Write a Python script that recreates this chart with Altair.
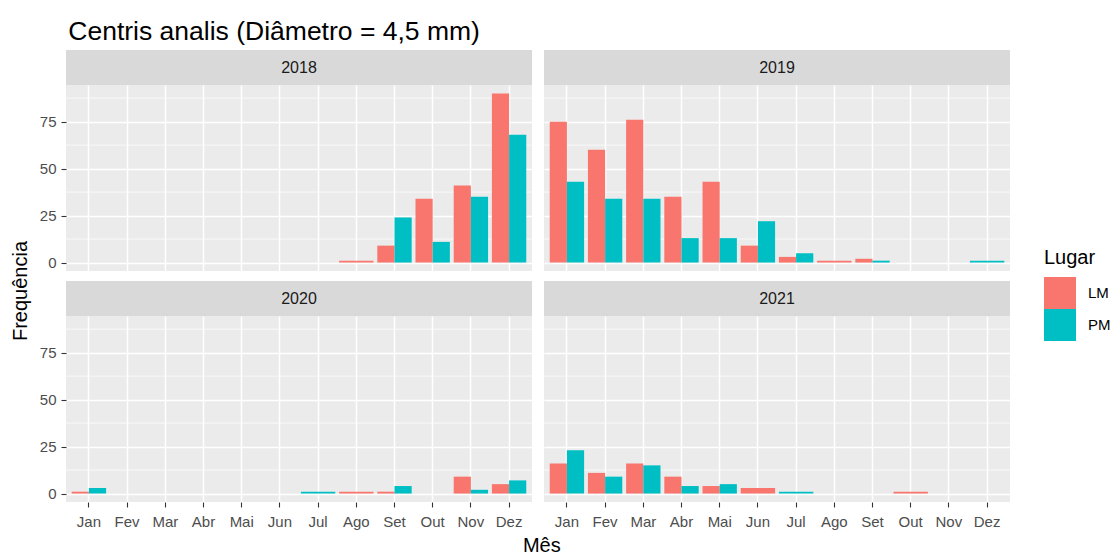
import altair as alt
import pandas as pd

# Monthly nest counts of Centris analis (trap-nest diameter 4.5 mm) per site
months = ["Jan", "Fev", "Mar", "Abr", "Mai", "Jun", "Jul", "Ago", "Set", "Out", "Nov", "Dez"]
years = ["2018", "2019", "2020", "2021"]
places = ["LM", "PM"]
place_colors = ["#F8766D", "#00BFC4"]

# counts per month (0 = no record for that month)
lm_2018 = [0, 0, 0, 0, 0, 0, 0, 1, 9, 34, 41, 90]
pm_2018 = [0, 0, 0, 0, 0, 0, 0, 0, 24, 11, 35, 68]
lm_2019 = [75, 60, 76, 35, 43, 9, 3, 1, 2, 0, 0, 0]
pm_2019 = [43, 34, 34, 13, 13, 22, 5, 0, 1, 0, 0, 1]
lm_2020 = [1, 0, 0, 0, 0, 0, 0, 1, 1, 0, 9, 5]
pm_2020 = [3, 0, 0, 0, 0, 0, 1, 0, 4, 0, 2, 7]
lm_2021 = [16, 11, 16, 9, 4, 3, 0, 0, 0, 1, 0, 0]
pm_2021 = [23, 9, 15, 4, 5, 0, 1, 0, 0, 0, 0, 0]

major_breaks = [0, 25, 50, 75]
minor_breaks = [12.5, 37.5, 62.5, 87.5]

series = {
    "2018": (lm_2018, pm_2018),
    "2019": (lm_2019, pm_2019),
    "2020": (lm_2020, pm_2020),
    "2021": (lm_2021, pm_2021),
}

rows = []
for year in years:
    lm, pm = series[year]
    for m, a, b in zip(months, lm, pm):
        if a > 0:
            rows.append({"Ano": year, "Mes": m, "Lugar": "LM", "Freq": a})
        if b > 0:
            rows.append({"Ano": year, "Mes": m, "Lugar": "PM", "Freq": b})
df = pd.DataFrame(rows)
minor_df = pd.DataFrame({"v": minor_breaks})

FONT = "Liberation Sans"
W, H, STRIP = 466, 186, 35


def panel(year, left, bottom):
    x_axis = alt.Axis(
        title=None, labels=bottom, ticks=bottom, domain=False, grid=True,
        bandPosition=0.5, labelAngle=0, labelPadding=7,
    )
    y_axis = alt.Axis(
        title=None, values=major_breaks, labels=left, ticks=left,
        domain=False, grid=True,
    )
    x = alt.X("Mes:N", sort=months,
              scale=alt.Scale(domain=months, paddingInner=0.1, paddingOuter=0.15),
              axis=x_axis)
    yscale = alt.Scale(domain=[-4.5, 94.5], nice=False, zero=False)
    y = alt.Y("Freq:Q", scale=yscale, axis=y_axis)
    color = alt.Color(
        "Lugar:N",
        scale=alt.Scale(domain=places, range=place_colors),
        legend=alt.Legend(title="Lugar"),
    )

    base = (
        alt.Chart(df)
        .transform_filter(alt.datum.Ano == year)
        .transform_joinaggregate(n="count()", groupby=["Mes"])
    )
    # months with both sites are dodged; a lone site fills the whole slot
    paired = base.transform_filter(alt.datum.n == 2).mark_bar().encode(
        x=x,
        xOffset=alt.XOffset("Lugar:N", scale=alt.Scale(domain=places, paddingInner=0, paddingOuter=0)),
        y=y, y2=alt.datum(0), color=color,
    )
    single = base.transform_filter(alt.datum.n == 1).mark_bar().encode(
        x=x, y=y, y2=alt.datum(0), color=color,
    )
    minor = alt.Chart(minor_df).mark_rule(color="white", strokeWidth=0.7).encode(
        y=alt.Y("v:Q", scale=yscale, axis=y_axis)
    )

    strip_df = pd.DataFrame({"Ano": [year]})
    strip_bg = alt.Chart(strip_df).mark_rect(color="#D9D9D9").encode(
        x=alt.value(0), x2=alt.value(W), y=alt.value(-STRIP), y2=alt.value(0)
    )
    strip_txt = alt.Chart(strip_df).mark_text(
        font=FONT, fontSize=16, color="#1A1A1A", baseline="middle", align="center"
    ).encode(text="Ano:N", x=alt.value(W / 2), y=alt.value(-STRIP / 2))

    return alt.layer(minor, paired, single, strip_bg, strip_txt).properties(width=W, height=H)


grid = alt.concat(
    panel("2018", True, False),
    panel("2019", False, False),
    panel("2020", True, True),
    panel("2021", False, True),
    columns=2,
    spacing=10,
)

with_x_title = alt.vconcat(
    grid,
    title=alt.TitleParams("Mês", orient="bottom", anchor="middle", font=FONT,
                          fontSize=20, fontWeight="normal", color="black", offset=7, dx=17),
)
with_y_title = alt.hconcat(
    with_x_title,
    title=alt.TitleParams("Frequência", orient="left", anchor="middle", font=FONT,
                          fontSize=20, fontWeight="normal", color="black", offset=8, dx=12),
)
chart = (
    alt.vconcat(
        with_y_title,
        title=alt.TitleParams("Centris analis (Diâmetro = 4,5 mm)", anchor="start", font=FONT,
                              fontSize=26.5, fontWeight="normal", color="black", offset=5, dx=57),
    )
    .properties(padding={"left": 11, "top": 18, "right": 0, "bottom": 0}, background="white")
    .configure_view(fill="#EBEBEB", stroke=None)
    .configure_axis(
        gridColor="white", gridWidth=1.5, tickColor="#333333", tickSize=5, tickWidth=1.1,
        labelColor="#4D4D4D", labelFont=FONT, labelFontSize=15, labelPadding=5,
    )
    .configure_legend(
        orient="none", legendX=978, legendY=163,
        titleFont=FONT, titleFontSize=20, titleFontWeight="normal", titleColor="black",
        titlePadding=9, labelFont=FONT, labelFontSize=15, labelColor="black",
        symbolType="square", symbolSize=1024, symbolStrokeWidth=0, rowPadding=0,
        labelOffset=12,
    )
)

chart.save("out.html", embed_options={"renderer": "svg", "actions": False})
